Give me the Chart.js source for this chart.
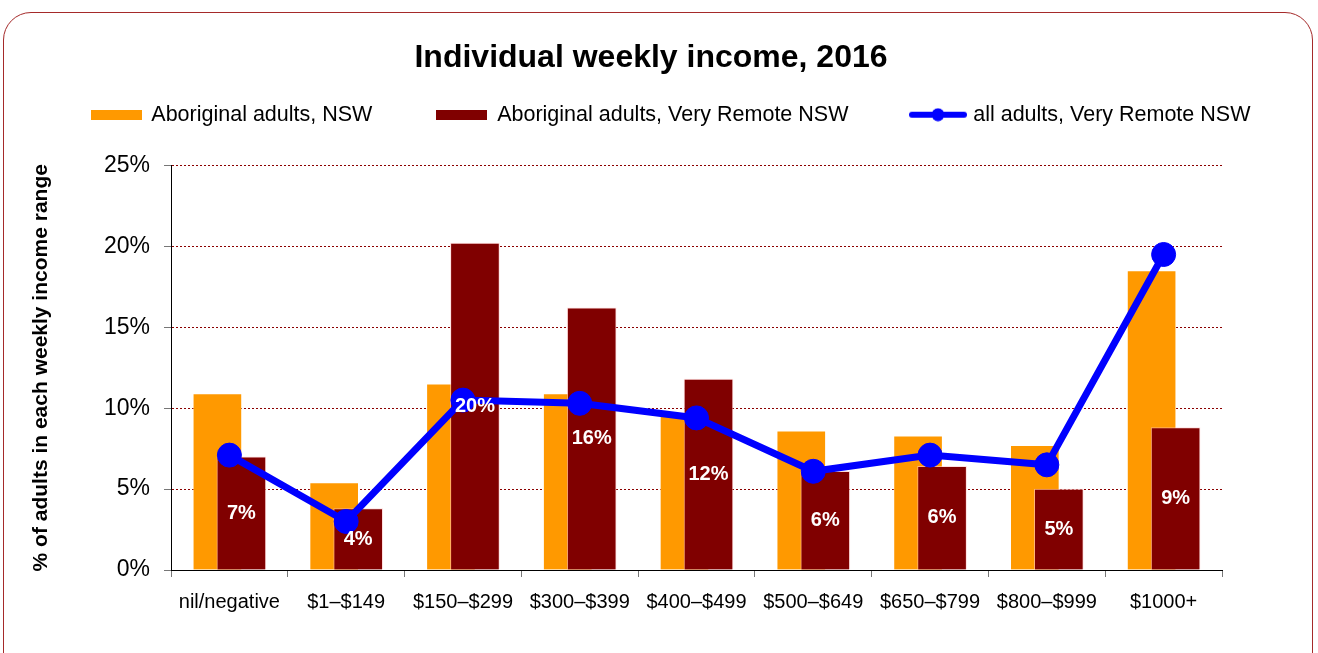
<!DOCTYPE html>
<html>
<head>
<meta charset="utf-8">
<title>Individual weekly income, 2016</title>
<script src="https://cdn.jsdelivr.net/npm/chart.js@4.4.1/dist/chart.umd.min.js"></script>
<style>
  html, body { margin: 0; padding: 0; background: #fff; overflow: hidden; }
  #frame {
    position: absolute; left: 3px; top: 12px; width: 1310px; height: 700px;
    box-sizing: border-box; border: 1.5px solid #a52a2a; border-radius: 28px;
  }
  #wrap { position: absolute; left: 0; top: 0; width: 1318px; height: 653px; }
</style>
</head>
<body>
<div id="frame"></div>
<div id="wrap"><canvas id="chart" width="1318" height="653"></canvas></div>
<script>
// Data
const chartTitle = 'Individual weekly income, 2016';
const categories = ['nil/negative', '$1–$149', '$150–$299', '$300–$399', '$400–$499',
    '$500–$649', '$650–$799', '$800–$999', '$1000+'];
const aboriginalNsw = [10.9, 5.4, 11.5, 10.9, 9.5, 8.6, 8.3, 7.7, 18.5];
const aboriginalRemote = [7.0, 3.8, 20.2, 16.2, 11.8, 6.1, 6.4, 5.0, 8.8];
const allRemote = [7.1, 3.0, 10.5, 10.3, 9.4, 6.1, 7.1, 6.5, 19.5];
const yTicks = [0, 5, 10, 15, 20, 25];

const ORANGE = '#ff9900';
const MAROON = '#800000';
const BLUE = '#0000ff';

Chart.defaults.font.family = "'Liberation Sans', Arial, sans-serif";
Chart.defaults.color = '#000';

// legend icons: flat bar swatch and line-with-marker
function barIcon(color) {
    const c = document.createElement('canvas');
    c.width = 51; c.height = 10;
    const g = c.getContext('2d');
    g.fillStyle = color;
    g.fillRect(0, 0, 51, 10);
    return c;
}
function lineIcon(color) {
    const c = document.createElement('canvas');
    c.width = 58; c.height = 14;
    const g = c.getContext('2d');
    g.strokeStyle = color;
    g.lineWidth = 6;
    g.lineCap = 'round';
    g.beginPath();
    g.moveTo(3, 7);
    g.lineTo(55, 7);
    g.stroke();
    g.fillStyle = color;
    g.beginPath();
    g.arc(29, 7, 6.5, 0, Math.PI * 2);
    g.fill();
    return c;
}
const legendIcons = [barIcon(ORANGE), barIcon(MAROON), lineIcon(BLUE)];

// overlapping bars: nudge each bar dataset sideways
const barShift = {
    id: 'barShift',
    afterDatasetsUpdate(chart) {
        chart.data.datasets.forEach((ds, i) => {
            if (!ds.xShift) return;
            chart.getDatasetMeta(i).data.forEach(el => { el.x += ds.xShift; });
        });
    }
};

// white value labels inside the maroon bars
const barLabels = {
    id: 'barLabels',
    afterDatasetsDraw(chart) {
        const ctx = chart.ctx;
        const meta = chart.getDatasetMeta(1);
        ctx.save();
        ctx.fillStyle = '#fff';
        ctx.font = "bold 20px 'Liberation Sans', Arial, sans-serif";
        ctx.textAlign = 'center';
        ctx.textBaseline = 'middle';
        meta.data.forEach((el, i) => {
            const v = chart.data.datasets[1].data[i];
            ctx.fillText(Math.round(v) + '%', el.x, (el.y + el.base) / 2);
        });
        ctx.restore();
    }
};

// title sits a bit left of the legend centre in the original
const titleText = {
    id: 'titleText',
    afterDraw(chart) {
        const ctx = chart.ctx;
        ctx.save();
        ctx.fillStyle = '#000';
        ctx.font = "bold 32px 'Liberation Sans', Arial, sans-serif";
        ctx.textAlign = 'center';
        ctx.textBaseline = 'middle';
        ctx.fillText(chartTitle, 651, 58);
        ctx.restore();
    }
};

// extra room under the legend
const legendSpacer = {
    id: 'legendSpacer',
    beforeInit(chart) {
        const fit = chart.legend.fit;
        chart.legend.fit = function () {
            fit.bind(chart.legend)();
            this.height += 30;
        };
    }
};

new Chart(document.getElementById('chart'), {
    data: {
        labels: categories,
        datasets: [
            {
                type: 'bar',
                label: 'Aboriginal adults, NSW',
                data: aboriginalNsw,
                backgroundColor: ORANGE,
                borderColor: 'rgba(255,255,255,0.35)',
                borderWidth: 1,
                barThickness: 49,
                grouped: false,
                xShift: -12,
                order: 2
            },
            {
                type: 'bar',
                label: 'Aboriginal adults, Very Remote NSW',
                data: aboriginalRemote,
                backgroundColor: MAROON,
                borderColor: 'rgba(255,200,200,0.6)',
                borderWidth: 1,
                barThickness: 49,
                grouped: false,
                xShift: 12,
                order: 1
            },
            {
                type: 'line',
                label: 'all adults, Very Remote NSW',
                data: allRemote,
                borderColor: BLUE,
                backgroundColor: BLUE,
                borderWidth: 7,
                tension: 0,
                pointRadius: 12,
                pointBackgroundColor: BLUE,
                pointBorderColor: BLUE,
                pointBorderWidth: 1,
                order: 0
            }
        ]
    },
    options: {
        responsive: false,
        animation: false,
        events: [],
        layout: {
            padding: { left: 24, right: 0, top: 39, bottom: 26 }
        },
        plugins: {
            title: { display: false },
            tooltip: { enabled: false },
            legend: {
                position: 'top',
                labels: {
                    usePointStyle: true,
                    pointStyleWidth: 49,
                    padding: 65,
                    color: '#000',
                    font: { size: 21.5 },
                    generateLabels(chart) {
                        return chart.data.datasets.map((ds, i) => ({
                            text: ds.label,
                            pointStyle: legendIcons[i],
                            fillStyle: ds.backgroundColor,
                            strokeStyle: 'transparent',
                            lineWidth: 0,
                            hidden: false,
                            datasetIndex: i
                        }));
                    }
                }
            }
        },
        scales: {
            x: {
                offset: true,
                grid: {
                    offset: true,
                    drawOnChartArea: false,
                    tickColor: '#777',
                    tickLength: 7
                },
                border: { color: '#000', width: 1 },
                ticks: {
                    font: { size: 20 },
                    color: '#000',
                    padding: 13,
                    maxRotation: 0,
                    autoSkip: false
                }
            },
            y: {
                min: 0,
                max: 25,
                afterBuildTicks(scale) {
                    scale.ticks = yTicks.map(v => ({ value: v }));
                },
                afterFit(scale) {
                    scale.width = 171 - 24;
                },
                grid: {
                    color: ctx => (ctx.tick && ctx.tick.value === 0) ? 'rgba(0,0,0,0)' : '#8b0000',
                    lineWidth: 1,
                    tickColor: '#777',
                    tickLength: 7
                },
                border: { color: '#000', width: 1, dash: [2, 2] },
                ticks: {
                    callback: v => v + '%',
                    font: { size: 23 },
                    color: '#000',
                    padding: 14
                },
                title: {
                    display: true,
                    text: '% of adults in each weekly income range',
                    font: { size: 21, weight: 'bold' },
                    color: '#000',
                    padding: { top: 5, bottom: 0 }
                }
            },
            yRight: {
                position: 'right',
                display: true,
                grid: { display: false },
                ticks: { display: false },
                border: { display: false },
                afterFit(scale) {
                    scale.width = 96;
                }
            }
        }
    },
    plugins: [barShift, barLabels, titleText, legendSpacer]
});
</script>
</body>
</html>
